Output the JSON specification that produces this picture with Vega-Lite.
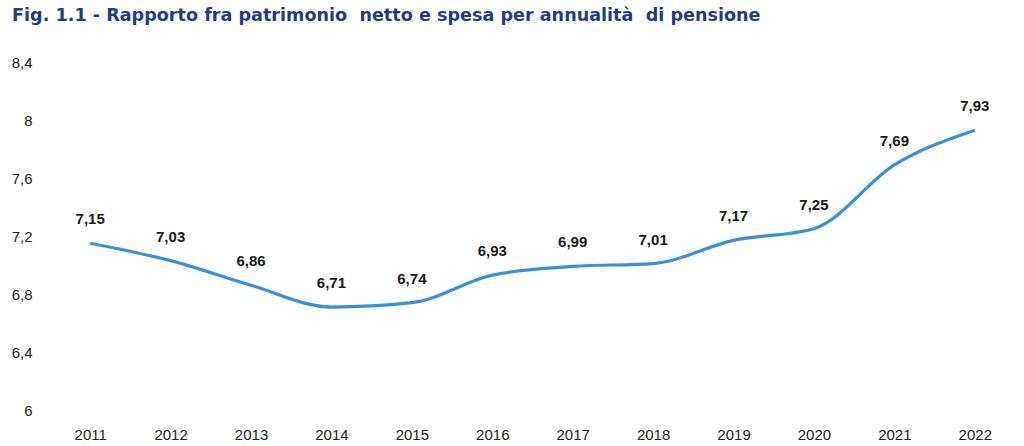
{
  "$schema": "https://vega.github.io/schema/vega-lite/v6.json",
  "width": 965,
  "height": 348,
  "autosize": "none",
  "padding": {"left": 50, "top": 62, "right": 9, "bottom": 36},
  "background": "white",
  "config": {
    "view": {"stroke": null},
    "locale": {
      "number": {"decimal": ",", "thousands": ".", "grouping": [3], "currency": ["€", ""]}
    }
  },
  "title": {
    "text": "Fig. 1.1 - Rapporto fra patrimonio\u00a0 netto e spesa per annualità\u00a0 di pensione",
    "anchor": "start",
    "frame": "group",
    "dx": -38,
    "offset": 30,
    "font": "DejaVu Sans",
    "fontSize": 17.6,
    "fontWeight": "bold",
    "color": "#1F3C88"
  },
  "data": {
    "values": [
      {"anno": "2011", "valore": 7.15},
      {"anno": "2012", "valore": 7.03},
      {"anno": "2013", "valore": 6.86},
      {"anno": "2014", "valore": 6.71},
      {"anno": "2015", "valore": 6.74},
      {"anno": "2016", "valore": 6.93},
      {"anno": "2017", "valore": 6.99},
      {"anno": "2018", "valore": 7.01},
      {"anno": "2019", "valore": 7.17},
      {"anno": "2020", "valore": 7.25},
      {"anno": "2021", "valore": 7.69},
      {"anno": "2022", "valore": 7.93}
    ]
  },
  "encoding": {
    "x": {
      "field": "anno",
      "type": "ordinal",
      "scale": {"type": "point", "padding": 0.5},
      "axis": {
        "title": null,
        "domain": false,
        "ticks": false,
        "grid": false,
        "labelAngle": 0,
        "labelPadding": 17,
        "labelFont": "Liberation Sans",
        "labelFontSize": 15,
        "labelColor": "#222222"
      }
    },
    "y": {
      "field": "valore",
      "type": "quantitative",
      "scale": {"domain": [6, 8.4], "nice": false, "zero": false},
      "axis": {
        "title": null,
        "domain": false,
        "ticks": false,
        "grid": false,
        "values": [6, 6.4, 6.8, 7.2, 7.6, 8, 8.4],
        "format": ".1~f",
        "labelPadding": 18,
        "labelFont": "Liberation Sans",
        "labelFontSize": 15,
        "labelColor": "#222222"
      }
    }
  },
  "layer": [
    {
      "mark": {"type": "line", "interpolate": "monotone", "color": "#3A8FD9", "strokeWidth": 3.2}
    },
    {
      "mark": {"type": "text", "dy": -24, "font": "Liberation Sans", "fontSize": 15, "fontWeight": "bold", "color": "#1a1a1a"},
      "encoding": {
        "text": {"field": "valore", "type": "quantitative", "format": ".2f"}
      }
    }
  ]
}
